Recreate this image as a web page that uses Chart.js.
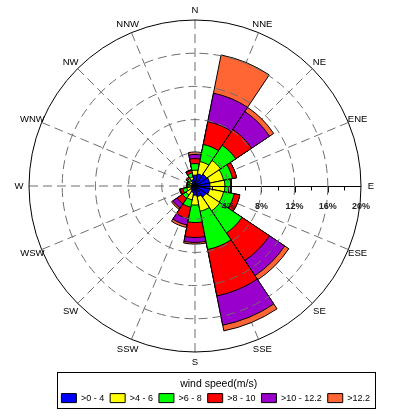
<!DOCTYPE html>
<html>
<head>
<meta charset="utf-8">
<script src="https://cdn.jsdelivr.net/npm/chart.js@4/dist/chart.umd.min.js"></script>
<style>
html,body{margin:0;padding:0;background:#fff;}
canvas{display:block;}
</style>
</head>
<body>
<canvas id="c" width="394" height="416"></canvas>
<script>
// ---- data (frequency %, per wind-speed bin, per direction) ----
const directions = ['N','NNE','NE','ENE','E','ESE','SE','SSE','S','SSW','SW','WSW','W','WNW','NW','NNW'];
const speedBins = ['>0 - 4','>4 - 6','>6 - 8','>8 - 10','>10 - 12.2','>12.2'];
const binColors = ['#0000FF','#FFFF00','#00FF00','#FF0000','#9900CC','#FF6633'];
const freq0to4   = [1.3,1.5,1.7,1.8,1.8,1.8,1.6,1.3,1.1,0.8,0.6,0.5,0.4,0.4,0.5,0.8];
const freq4to6   = [0.6,1.5,2.0,1.7,1.8,1.7,2.0,1.8,1.2,0.9,0.7,0.5,0.3,0.3,0.3,0.3];
const freq6to8   = [0.8,2.1,2.2,1.1,0.7,1.3,3.2,4.7,2.1,0.9,0.5,0.5,0.2,0.2,0.3,0.5];
const freq8to10  = [0.6,2.8,2.3,0.5,0.1,0.7,4.0,5.7,1.8,1.4,0.8,0.3,0.1,0.1,0.2,0.3];
const freq10to12 = [0.5,3.5,2.6,0.0,0.0,0.0,2.2,3.6,0.6,0.8,0.6,0.1,0.0,0.0,0.0,0.1];
const freqOver12 = [0.3,4.7,0.6,0.0,0.0,0.0,0.6,0.7,0.2,0.3,0.2,0.0,0.0,0.0,0.0,0.0];
const radialTicks = [4,8,12,16,20];
const legendTitle = 'wind speed(m/s)';

const binSeries = [freq0to4,freq4to6,freq6to8,freq8to10,freq10to12,freqOver12];
// stacked (cumulative) radii so each bin sits on top of the previous ones
const stacked = binSeries.map((_, k) =>
  directions.map((_, d) => {
    let s = 0; for (let j = 0; j <= k; j++) s += binSeries[j][d];
    return Math.round(s * 100) / 100;
  }));

const FONT = '"Liberation Sans", Arial, Helvetica, sans-serif';

const roseDecor = {
  id: 'roseDecor',
  beforeDatasetsDraw(chart) {
    const s = chart.scales.r, ctx = chart.ctx;
    const cx = s.xCenter, cy = s.yCenter;
    const R = s.getDistanceFromCenterForValue(s.max);
    ctx.save();
    ctx.strokeStyle = '#6e6e6e';
    ctx.lineWidth = 1;
    ctx.setLineDash([9, 5]);
    directions.forEach((d, i) => {
      if (d === 'E') return;
      const a = (i * 22.5 - 90) * Math.PI / 180;
      ctx.beginPath();
      ctx.moveTo(cx + R * Math.cos(a), cy + R * Math.sin(a));
      ctx.lineTo(cx, cy);
      ctx.stroke();
    });
    ctx.restore();
  },
  afterDatasetsDraw(chart) {
    const s = chart.scales.r, ctx = chart.ctx;
    const cx = s.xCenter, cy = s.yCenter;
    const R = s.getDistanceFromCenterForValue(s.max);
    ctx.save();
    ctx.strokeStyle = '#000';
    ctx.lineWidth = 1;
    ctx.beginPath();
    ctx.moveTo(cx, cy + 0.5);
    ctx.lineTo(cx + R, cy + 0.5);
    ctx.stroke();
    for (let v = 2; v < s.max; v += 2) {
      const x = Math.round(cx + s.getDistanceFromCenterForValue(v)) + 0.5;
      const len = (v % 4 === 0) ? 6 : 4;
      ctx.beginPath();
      ctx.moveTo(x, cy + 0.5);
      ctx.lineTo(x, cy + 0.5 + len);
      ctx.stroke();
    }
    ctx.restore();
  },
  afterDraw(chart) {
    const s = chart.scales.r, ctx = chart.ctx;
    const cx = s.xCenter, cy = s.yCenter;
    const R = s.getDistanceFromCenterForValue(s.max);
    ctx.save();
    // radial tick labels along the E axis
    ctx.fillStyle = '#222';
    ctx.font = 'bold 9px ' + FONT;
    ctx.textAlign = 'center';
    ctx.textBaseline = 'middle';
    radialTicks.forEach(v => {
      ctx.fillText(v + '%', cx + s.getDistanceFromCenterForValue(v), cy + 21);
    });
    // direction labels
    ctx.fillStyle = '#000';
    ctx.font = '9.5px ' + FONT;
    directions.forEach((d, i) => {
      const a = (i * 22.5 - 90) * Math.PI / 180;
      const r = R + 10;
      ctx.fillText(d, cx + r * Math.cos(a), cy + r * Math.sin(a) + 0.5);
    });
    // legend frame
    const lg = chart.legend;
    if (lg && lg.legendHitBoxes && lg.legendHitBoxes.length) {
      const hb = lg.legendHitBoxes;
      const left = Math.round(hb[0].left - 4) + 0.5;
      const right = Math.round(lg.right) - 0.5;
      const top = Math.round(lg.top + 20) + 0.5;
      const bottom = Math.round(lg.top + 56) + 0.5;
      ctx.strokeStyle = '#000';
      ctx.lineWidth = 1;
      ctx.strokeRect(left, top, right - left, bottom - top);
    }
    ctx.restore();
  }
};

new Chart(document.getElementById('c'), {
  type: 'polarArea',
  data: {
    labels: directions,
    datasets: speedBins.map((name, k) => ({
      label: name,
      data: stacked[k],
      backgroundColor: binColors[k],
      borderColor: '#000',
      borderWidth: 1
    }))
  },
  options: {
    responsive: false,
    animation: false,
    layout: { padding: { left: 14, right: 18, top: 20, bottom: 3.4 } },
    scales: {
      r: {
        min: 0,
        max: 20,
        startAngle: -11.25,
        ticks: { display: false, stepSize: 4 },
        angleLines: { display: false },
        pointLabels: { display: false },
        grid: {
          circular: true,
          z: 1,
          color: ctx => ctx.tick && ctx.tick.value === 20 ? '#000' : '#6e6e6e',
          lineWidth: 1
        },
        border: {
          dash: ctx => ctx.tick && ctx.tick.value === 20 ? [] : [9, 5]
        }
      }
    },
    plugins: {
      tooltip: { enabled: false },
      legend: {
        position: 'bottom',
        align: 'end',
        title: {
          display: true,
          text: legendTitle,
          color: '#000',
          font: { family: FONT, size: 10.5 },
          padding: { top: 27, bottom: -4 }
        },
        labels: {
          boxWidth: 15,
          boxHeight: 9,
          padding: 6,
          color: '#000',
          font: { family: FONT, size: 9 },
          generateLabels: chart => chart.data.datasets.map((ds, i) => ({
            text: ds.label,
            fillStyle: ds.backgroundColor,
            strokeStyle: '#000',
            lineWidth: 1,
            hidden: false,
            datasetIndex: i
          }))
        }
      }
    }
  },
  plugins: [roseDecor]
});
</script>
</body>
</html>
